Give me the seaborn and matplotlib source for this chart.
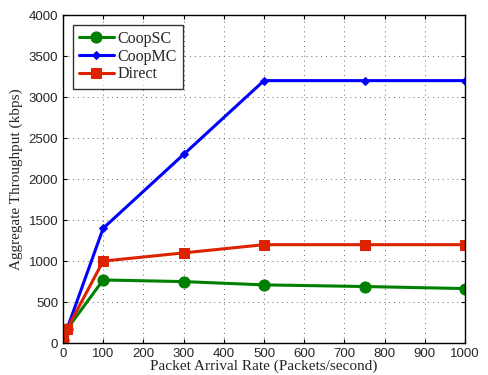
import matplotlib
matplotlib.use("Agg")
import matplotlib.pyplot as plt
import seaborn as sns
import pandas as pd

# Data
arrival_rate = [1, 10, 100, 300, 500, 750, 1000]
coop_sc = [40, 170, 770, 750, 710, 690, 665]
coop_mc = [40, 170, 1400, 2300, 3200, 3200, 3200]
direct = [40, 170, 1000, 1100, 1200, 1200, 1200]

series = ["CoopSC", "CoopMC", "Direct"]
colors = {"CoopSC": "#008000", "CoopMC": "#0000ff", "Direct": "#dd2200"}
markers = {"CoopSC": "o", "CoopMC": "D", "Direct": "s"}
msizes = {"CoopSC": 8, "CoopMC": 4, "Direct": 7}

df = pd.DataFrame({
    "rate": arrival_rate * 3,
    "tput": coop_sc + coop_mc + direct,
    "scheme": ["CoopSC"] * 7 + ["CoopMC"] * 7 + ["Direct"] * 7,
})

sns.set_style("ticks")
plt.rcParams["font.family"] = ["Liberation Sans", "DejaVu Sans"]

fig = plt.figure(figsize=(4.88, 3.75), dpi=100)
ax = fig.add_axes([0.129, 0.085, 0.824, 0.875])

for name in series:
    sub = df[df["scheme"] == name]
    sns.lineplot(data=sub, x="rate", y="tput", ax=ax, color=colors[name],
                 marker=markers[name], markersize=msizes[name], linewidth=2.2,
                 markeredgecolor=colors[name], label=name)

ax.set_xlim(0, 1000)
ax.set_ylim(0, 4000)
ax.set_xticks(range(0, 1001, 100))
ax.set_yticks(range(0, 4001, 500))
ax.grid(True, linestyle=(0, (1, 4)), color="#666666", linewidth=0.7)
for s in ax.spines.values():
    s.set_visible(True)
    s.set_color("black")
    s.set_linewidth(1.0)
ax.tick_params(direction="in", length=3, labelsize=9.5, top=True, right=True, color="black")

serif = ["Liberation Serif", "DejaVu Serif"]
ax.set_xlabel("Packet Arrival Rate (Packets/second)", family=serif, fontsize=11, labelpad=0)
ax.set_ylabel("Aggregate Throughput (kbps)", family=serif, fontsize=11, labelpad=4)

leg = ax.legend(loc="upper left", prop={"family": serif, "size": 11.5}, frameon=True,
                fancybox=False, edgecolor="black", borderaxespad=0.6,
                handlelength=2.2, labelspacing=0.1, borderpad=0.4, handletextpad=0.2)
leg.get_frame().set_linewidth(1.0)

fig.savefig("out.png", dpi=100)
